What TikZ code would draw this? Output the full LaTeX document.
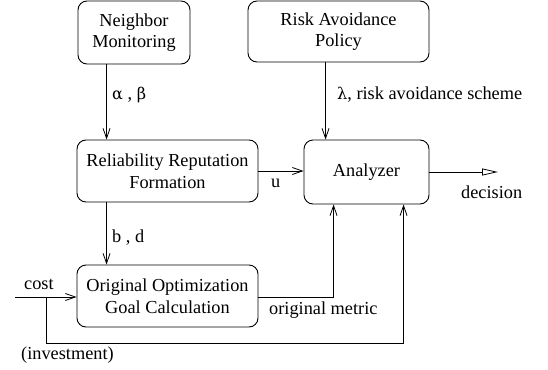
\documentclass[tikz,border=0pt]{standalone}
\usepackage{fontspec}
\newfontfamily\serifrm{Liberation Serif}
\newfontfamily\grk{DejaVu Serif}[Scale=0.88]
\usetikzlibrary{arrows.meta}
\begin{document}
\begin{tikzpicture}[x=1pt,y=-1pt,
  font={\fontsize{18.3}{21.5}\selectfont\serifrm},
  box/.style={draw,rounded corners=9pt,line width=0.9pt,align=center,inner sep=0pt},
  lab/.style={inner sep=0pt,anchor=west},
  arr/.style={line width=0.8pt,-{Straight Barb[length=10pt,width=7pt]}}]
\useasboundingbox (0,0) rectangle (548,369);
\node[box,minimum width=112,minimum height=63] (NM) at (134,32.5) {Neighbor\\Monitoring};
\node[box,minimum width=181,minimum height=61] (RAP) at (338.5,31.5) {Risk Avoidance\\Policy};
\node[box,minimum width=181,minimum height=62] (RRF) at (167.5,171) {Reliability Reputation\\Formation};
\node[box,minimum width=125,minimum height=64] (AN) at (366.5,172) {Analyzer};
\node[box,minimum width=181,minimum height=62] (OG) at (167.5,296) {Original Optimization\\Goal Calculation};
\coordinate (dec) at (498,172);
\coordinate (cost) at (15,297);
\coordinate (inv) at (46,297);
\coordinate (invb) at (46,343);
% arrows
\draw[arr] ([xshift=30]RRF.north west |- NM.south) -- ([xshift=30]RRF.north west);
\draw[arr] ([xshift=22]AN.north west |- RAP.south) -- ([xshift=22]AN.north west);
\draw[arr] (RRF.east) -- (RRF.east -| AN.west);
\draw[line width=0.8pt,-{Triangle[open,length=16pt,width=7pt]}] (AN.east |- dec) -- (dec);
\draw[arr] ([xshift=30]OG.north west |- RRF.south) -- ([xshift=30]OG.north west);
\draw[arr] (cost) -- (cost -| OG.west);
\draw[arr] (cost -| OG.east) -| ([xshift=30]AN.south west);
\draw[arr] (inv) -- (invb) -| ([xshift=100]AN.south west);
% labels
\node[lab] (l1) at (112,95) {{\grk α} , {\grk β}};
\node[lab] (l2) at (337,95) {{\grk λ}, risk avoidance scheme};
\node[lab] (l3) at (271,183) {u};
\node[lab] (l4) at (461,192) {decision};
\node[lab] (l5) at (112,238) {b , d};
\node[lab] (l6) at (24,284) {cost};
\node[lab] (l7) at (269,310) {original metric};
\node[lab] (l8) at (21,355) {(investment)};
\end{tikzpicture}
\end{document}
